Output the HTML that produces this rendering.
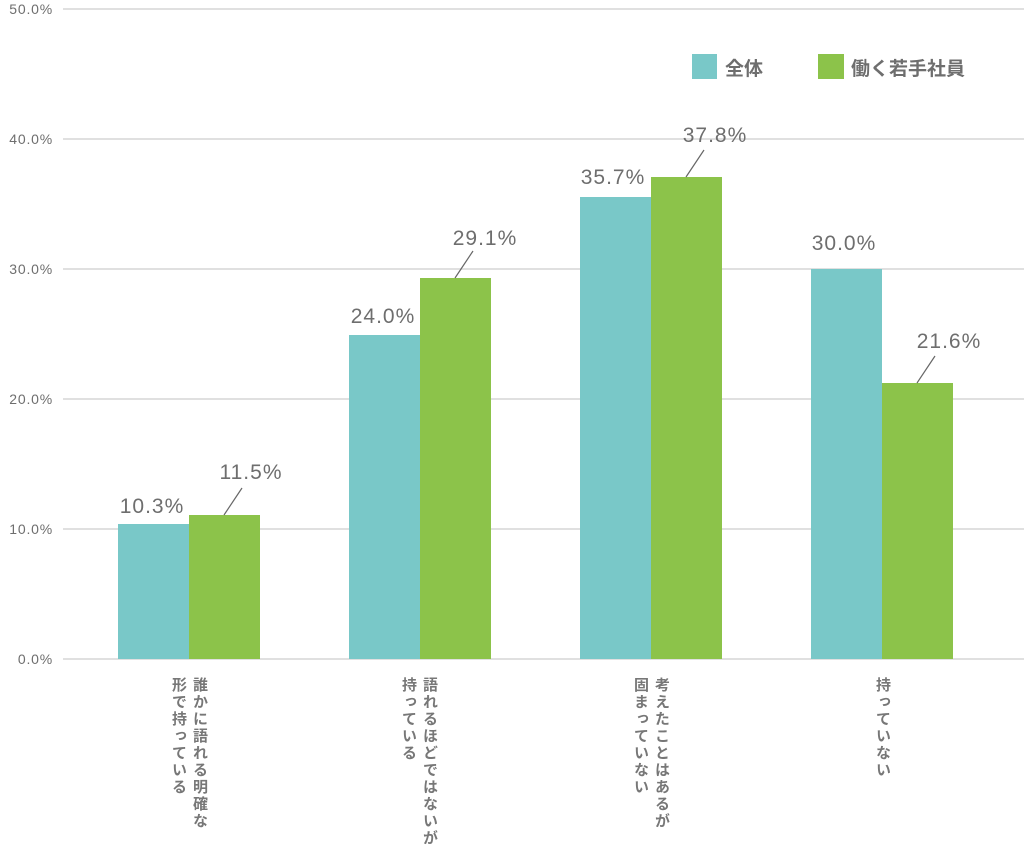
<!DOCTYPE html>
<html><head><meta charset="utf-8"><style>
body{margin:0;background:#fff;width:1024px;height:847px;overflow:hidden}
svg text{font-family:"Liberation Sans","Noto Sans CJK JP",sans-serif;fill:#6e6e6e}
.v{position:absolute;writing-mode:vertical-rl;font-family:"Liberation Sans","Noto Sans CJK JP",sans-serif;font-size:15px;font-weight:bold;color:#777;line-height:21px;letter-spacing:2px}
</style></head><body>
<svg width="1024" height="847" style="position:absolute;left:0;top:0">
<g stroke="#e0e0e0" stroke-width="2">
<line x1="63" y1="9" x2="1024" y2="9"/><line x1="63" y1="139" x2="1024" y2="139"/>
<line x1="63" y1="269" x2="1024" y2="269"/><line x1="63" y1="399" x2="1024" y2="399"/>
<line x1="63" y1="529" x2="1024" y2="529"/><line x1="63" y1="659" x2="1024" y2="659"/>
</g>
<g font-size="14" text-anchor="end" letter-spacing="0.8">
<text x="53" y="14">50.0%</text><text x="53" y="144">40.0%</text><text x="53" y="274">30.0%</text>
<text x="53" y="404">20.0%</text><text x="53" y="534">10.0%</text><text x="53" y="664">0.0%</text>
</g>
<g fill="#79c8c8">
<rect x="118" y="524" width="71" height="135"/><rect x="349" y="335" width="71" height="324"/>
<rect x="580" y="197" width="71" height="462"/><rect x="811" y="269" width="71" height="390"/>
</g>
<g fill="#8cc34a">
<rect x="189" y="515" width="71" height="144"/><rect x="420" y="278" width="71" height="381"/>
<rect x="651" y="177" width="71" height="482"/><rect x="882" y="383" width="71" height="276"/>
</g>
<g stroke="#666" stroke-width="1.2">
<line x1="224" y1="515" x2="242" y2="488"/><line x1="455" y1="278" x2="473" y2="251"/>
<line x1="686" y1="177" x2="704" y2="150"/><line x1="917" y1="383" x2="935" y2="356"/>
</g>
<g font-size="21" text-anchor="middle" letter-spacing="1">
<text x="152" y="513">10.3%</text><text x="251" y="479">11.5%</text>
<text x="383" y="323">24.0%</text><text x="485" y="245">29.1%</text>
<text x="613" y="184">35.7%</text><text x="715" y="142">37.8%</text>
<text x="844" y="250">30.0%</text><text x="949" y="348">21.6%</text>
</g>
<rect x="692" y="54" width="25" height="25" fill="#79c8c8"/>
<text x="725" y="75" font-size="19" font-weight="bold" fill="#777">全体</text>
<rect x="818" y="54" width="26" height="25" fill="#8cc34a"/>
<text x="851" y="75" font-size="19" font-weight="bold" fill="#777">働く若手社員</text>
</svg>
<div class="v" style="left:168px;top:677px">誰かに語れる明確な<br>形で持っている</div>
<div class="v" style="left:398px;top:677px">語れるほどではないが<br>持っている</div>
<div class="v" style="left:630px;top:677px">考えたことはあるが<br>固まっていない</div>
<div class="v" style="left:872px;top:677px">持っていない</div>
</body></html>
